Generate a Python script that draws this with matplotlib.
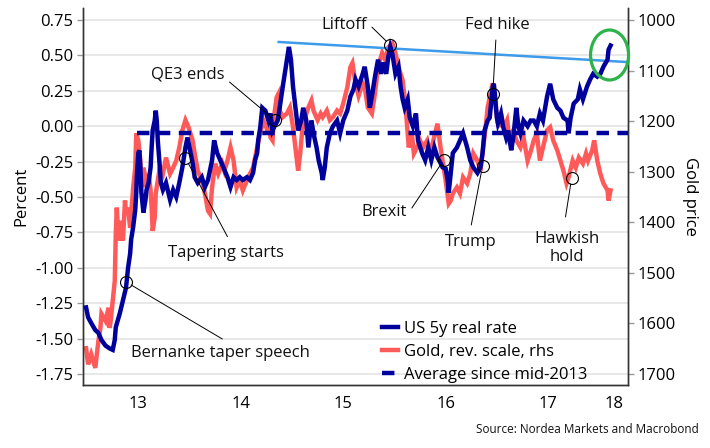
import matplotlib
matplotlib.use("Agg")
import matplotlib.pyplot as plt
from matplotlib.patches import Ellipse
from matplotlib.transforms import blended_transform_factory

plt.rcParams['font.family'] = ['Open Sans', 'DejaVu Sans']

# US 5y real rate (percent)
rate_t = [2012.99, 2013.01, 2013.04, 2013.08, 2013.11, 2013.14, 2013.18, 2013.22, 2013.25, 2013.27,
          2013.28, 2013.32, 2013.35, 2013.38, 2013.40, 2013.42, 2013.43, 2013.45, 2013.47, 2013.48,
          2013.485, 2013.50, 2013.51, 2013.52, 2013.53, 2013.55, 2013.57, 2013.58, 2013.60, 2013.62,
          2013.63, 2013.64, 2013.66, 2013.67, 2013.68, 2013.69, 2013.71, 2013.72, 2013.74, 2013.77,
          2013.81, 2013.84, 2013.87, 2013.90, 2013.93, 2013.96, 2013.98, 2014.00, 2014.03, 2014.05,
          2014.08, 2014.12, 2014.15, 2014.18, 2014.22, 2014.24, 2014.27, 2014.30, 2014.33, 2014.37,
          2014.40, 2014.43, 2014.46, 2014.49, 2014.52, 2014.56, 2014.59, 2014.62, 2014.64, 2014.66,
          2014.67, 2014.69, 2014.71, 2014.74, 2014.77, 2014.79, 2014.81, 2014.83, 2014.86, 2014.88,
          2014.91, 2014.95, 2014.97, 2014.99, 2015.01, 2015.04, 2015.06, 2015.09, 2015.11, 2015.14,
          2015.16, 2015.19, 2015.21, 2015.24, 2015.26, 2015.29, 2015.30, 2015.32, 2015.34, 2015.37,
          2015.40, 2015.44, 2015.47, 2015.50, 2015.54, 2015.57, 2015.60, 2015.62, 2015.65, 2015.69,
          2015.71, 2015.74, 2015.76, 2015.78, 2015.81, 2015.84, 2015.87, 2015.89, 2015.92, 2015.94,
          2015.96, 2015.98, 2016.01, 2016.04, 2016.06, 2016.08, 2016.10, 2016.13, 2016.15, 2016.18,
          2016.21, 2016.23, 2016.27, 2016.30, 2016.33, 2016.36, 2016.39, 2016.42, 2016.45, 2016.47,
          2016.50, 2016.52, 2016.53, 2016.55, 2016.57, 2016.61, 2016.64, 2016.67, 2016.71, 2016.74,
          2016.77, 2016.81, 2016.84, 2016.86, 2016.88, 2016.91, 2016.93, 2016.96, 2016.97, 2016.98,
          2017.00, 2017.01, 2017.04, 2017.06, 2017.09, 2017.11, 2017.14, 2017.16, 2017.19, 2017.21,
          2017.23, 2017.26, 2017.30, 2017.33, 2017.36, 2017.39, 2017.42, 2017.45, 2017.49, 2017.52,
          2017.55, 2017.59, 2017.62, 2017.65, 2017.69, 2017.70, 2017.72, 2017.75, 2017.79, 2017.81,
          2017.84, 2017.88, 2017.91, 2017.94, 2017.98, 2018.01, 2018.04, 2018.08, 2018.09, 2018.11]
rate_v = [-1.28, -1.35, -1.39, -1.44, -1.46, -1.51, -1.55, -1.57, -1.58, -1.51,
          -1.42, -1.32, -1.23, -1.14, -1.00, -0.90, -0.80, -0.71, -0.59, -0.47,
          -0.36, -0.19, -0.17, -0.29, -0.47, -0.61, -0.52, -0.45, -0.40, -0.29,
          -0.15, -0.03, 0.04, 0.11, 0.04, -0.10, -0.29, -0.40, -0.45, -0.40,
          -0.52, -0.45, -0.50, -0.40, -0.29, -0.15, -0.08, -0.15, -0.26, -0.36,
          -0.40, -0.36, -0.43, -0.38, -0.24, -0.10, -0.19, -0.24, -0.29, -0.36,
          -0.43, -0.36, -0.38, -0.36, -0.38, -0.36, -0.38, -0.33, -0.24, -0.19,
          -0.10, -0.01, 0.13, 0.11, 0.04, 0.09, -0.03, 0.00, 0.04, 0.13,
          0.28, 0.47, 0.56, 0.47, 0.28, 0.09, -0.03, 0.04, 0.13, 0.04,
          -0.15, 0.04, -0.05, -0.15, -0.24, -0.33, -0.38, -0.29, -0.15, -0.05,
          0.00, 0.04, -0.05, 0.04, 0.11, 0.21, 0.26, 0.33, 0.28, 0.37,
          0.42, 0.28, 0.13, 0.21, 0.35, 0.47, 0.37, 0.45, 0.37, 0.49,
          0.56, 0.51, 0.37, 0.42, 0.28, 0.19, 0.13, 0.19, 0.06, 0.00,
          0.09, -0.10, -0.19, -0.24, -0.15, -0.24, -0.15, -0.22, -0.26, -0.29,
          -0.30, -0.38, -0.47, -0.33, -0.19, -0.15, -0.10, -0.05, -0.15, -0.24,
          -0.29, -0.33, -0.29, -0.19, -0.03, 0.04, 0.06, 0.28, 0.30, 0.23,
          0.06, 0.02, 0.09, 0.00, -0.08, -0.03, -0.17, -0.08, 0.13, 0.00,
          -0.05, 0.04, 0.00, 0.04, 0.04, 0.00, 0.09, 0.04, 0.21, 0.30,
          0.19, 0.13, 0.11, 0.06, 0.04, -0.05, 0.06, 0.16, 0.19, 0.26,
          0.19, 0.28, 0.33, 0.37, 0.35, 0.37, 0.42, 0.47, 0.54, 0.57]

# Gold price (USD/oz), plotted on reversed right axis
gold_t = [2012.99, 2013.01, 2013.04, 2013.08, 2013.11, 2013.13, 2013.14, 2013.18, 2013.21, 2013.22,
          2013.23, 2013.25, 2013.27, 2013.28, 2013.29, 2013.30, 2013.32, 2013.33, 2013.35, 2013.37,
          2013.38, 2013.40, 2013.42, 2013.43, 2013.45, 2013.47, 2013.48, 2013.50, 2013.52, 2013.53,
          2013.55, 2013.57, 2013.58, 2013.60, 2013.62, 2013.63, 2013.64, 2013.66, 2013.67, 2013.71,
          2013.74, 2013.77, 2013.81, 2013.84, 2013.87, 2013.90, 2013.93, 2013.96, 2013.99, 2014.03,
          2014.05, 2014.08, 2014.12, 2014.15, 2014.18, 2014.20, 2014.22, 2014.25, 2014.28, 2014.32,
          2014.34, 2014.37, 2014.40, 2014.43, 2014.46, 2014.49, 2014.52, 2014.56, 2014.59, 2014.62,
          2014.66, 2014.69, 2014.72, 2014.76, 2014.78, 2014.79, 2014.81, 2014.82, 2014.85, 2014.87,
          2014.88, 2014.91, 2014.95, 2014.98, 2015.01, 2015.04, 2015.06, 2015.08, 2015.10, 2015.13,
          2015.16, 2015.19, 2015.21, 2015.25, 2015.28, 2015.30, 2015.34, 2015.37, 2015.40, 2015.44,
          2015.47, 2015.50, 2015.54, 2015.57, 2015.59, 2015.62, 2015.65, 2015.69, 2015.71, 2015.74,
          2015.78, 2015.81, 2015.84, 2015.88, 2015.91, 2015.94, 2015.98, 2016.01, 2016.04, 2016.08,
          2016.11, 2016.13, 2016.14, 2016.17, 2016.19, 2016.22, 2016.25, 2016.28, 2016.32, 2016.35,
          2016.38, 2016.42, 2016.45, 2016.47, 2016.50, 2016.53, 2016.55, 2016.57, 2016.61, 2016.64,
          2016.67, 2016.71, 2016.74, 2016.77, 2016.81, 2016.84, 2016.86, 2016.89, 2016.91, 2016.93,
          2016.96, 2016.98, 2017.00, 2017.02, 2017.04, 2017.07, 2017.10, 2017.12, 2017.16, 2017.19,
          2017.23, 2017.26, 2017.30, 2017.33, 2017.36, 2017.39, 2017.42, 2017.45, 2017.49, 2017.52,
          2017.55, 2017.59, 2017.62, 2017.65, 2017.68, 2017.70, 2017.74, 2017.77, 2017.80, 2017.84,
          2017.87, 2017.89, 2017.93, 2017.95, 2017.98, 2018.01, 2018.04, 2018.08, 2018.09, 2018.11]
gold_v = [1649, 1681, 1661, 1688, 1635, 1609, 1581, 1595, 1569, 1609,
          1595, 1556, 1516, 1423, 1371, 1411, 1436, 1397, 1436, 1357,
          1383, 1371, 1411, 1383, 1331, 1292, 1224, 1238, 1278, 1331,
          1292, 1311, 1331, 1304, 1337, 1371, 1417, 1391, 1343, 1292,
          1304, 1272, 1304, 1292, 1278, 1252, 1218, 1198, 1212, 1238,
          1264, 1298, 1317, 1343, 1377, 1383, 1331, 1284, 1304, 1284,
          1298, 1278, 1252, 1278, 1331, 1317, 1337, 1317, 1304, 1292,
          1252, 1224, 1198, 1218, 1212, 1232, 1238, 1198, 1153, 1145,
          1179, 1192, 1185, 1173, 1212, 1264, 1298, 1264, 1218, 1192,
          1173, 1159, 1179, 1198, 1185, 1192, 1179, 1198, 1192, 1179,
          1185, 1165, 1133, 1093, 1085, 1125, 1150, 1125, 1133, 1173,
          1185, 1145, 1093, 1065, 1079, 1054, 1046, 1065, 1093, 1119,
          1173, 1224, 1252, 1224, 1264, 1252, 1238, 1252, 1238, 1264,
          1238, 1205, 1252, 1278, 1317, 1363, 1357, 1343, 1331, 1343,
          1311, 1323, 1304, 1264, 1278, 1298, 1264, 1212, 1173, 1153,
          1125, 1153, 1192, 1212, 1185, 1212, 1198, 1232, 1218, 1238,
          1252, 1232, 1278, 1260, 1238, 1224, 1278, 1252, 1218, 1212,
          1238, 1258, 1278, 1298, 1323, 1311, 1278, 1292, 1272, 1284,
          1264, 1278, 1258, 1238, 1278, 1304, 1323, 1337, 1357, 1337]

avg_value = -0.05
avg_start = 2013.49

# Trend line across the real-rate peaks
trend_t = [2014.87, 2018.28]
trend_v = [0.595, 0.453]

# Annotations: label, circle (x, y), line start (x, y), text centre (x, y)
ann_labels = ["Bernanke taper speech", "Tapering starts", "QE3 ends", "Liftoff",
              "Fed hike", "Brexit", "Trump", "Hawkish\nhold"]
ann_circle = [(2013.38, -1.10), (2013.96, -0.225), (2014.83, 0.044), (2015.96, 0.573),
              (2016.96, 0.227), (2016.48, -0.24), (2016.86, -0.28), (2017.73, -0.366)]
ann_line = [(2014.32, -1.503), (2014.37, -0.78), (2014.39, 0.312), (2015.78, 0.70),
            (2016.99, 0.609), (2016.17, -0.578), (2016.75, -0.698), (2017.67, -0.641)]
ann_text = [(2014.30, -1.60), (2014.36, -0.895), (2013.98, 0.362), (2015.51, 0.715),
            (2017.00, 0.715), (2015.90, -0.606), (2016.74, -0.818), (2017.68, -0.86)]

pct_ticks = [0.75, 0.50, 0.25, 0.00, -0.25, -0.50, -0.75, -1.00, -1.25, -1.50, -1.75]
gold_ticks = [1000, 1100, 1200, 1300, 1400, 1500, 1600, 1700]
year_bounds = [2013, 2014, 2015, 2016, 2017, 2018]
year_label_pos = [2013.5, 2014.5, 2015.5, 2016.5, 2017.5, 2018.14]
year_labels = ["13", "14", "15", "16", "17", "18"]

NAVY = "#00009c"
RED = "#ff5a5a"
FS = 12
LW = 3.2

fig = plt.figure(figsize=(7.10, 4.48), dpi=100)
ax = fig.add_axes([83 / 710, 1 - 385 / 448, 545 / 710, 377 / 448])
ax2 = ax.twinx()
ax.set_zorder(ax2.get_zorder() + 1)
ax.patch.set_visible(False)

ax.set_xlim(2012.96, 2018.28)
ax.set_ylim(-1.828, 0.835)
ax2.set_ylim(1721.8, 976.2)

# grid (drawn on bottom axis, at left-axis ticks)
btrans = blended_transform_factory(ax2.transAxes, ax.transData)
for t in pct_ticks:
    ax2.plot([0, 1], [t, t], transform=btrans, color="#e6e6e6", lw=1.3, zorder=0)

l_gold, = ax2.plot(gold_t, gold_v, color=RED, lw=LW, solid_joinstyle='miter', zorder=2)
ax.plot(trend_t, trend_v, color="#3d9be9", lw=1.8, zorder=2, clip_on=False)
l_avg, = ax.plot([avg_start, 2018.28], [avg_value, avg_value], color=NAVY, lw=LW,
                 dashes=(2.8, 1.9), zorder=3)
l_rate, = ax.plot(rate_t, rate_v, color=NAVY, lw=LW, solid_joinstyle='miter', zorder=4)

ax.add_patch(Ellipse((2018.10, 0.503), 0.371, 0.353, fill=False, edgecolor="#2db34a",
                     lw=2.3, zorder=5, clip_on=False))

for lab, c, ls, tc in zip(ann_labels, ann_circle, ann_line, ann_text):
    ax.plot([c[0]], [c[1]], marker='o', ms=8.6, mfc='none', mec='black', mew=0.8, zorder=6)
    ax.annotate('', xy=c, xytext=ls,
                arrowprops=dict(arrowstyle='-', lw=0.7, color='black', shrinkA=0, shrinkB=4.3),
                zorder=6)
    ax.text(tc[0], tc[1], lab, ha='center', va='center', fontsize=FS, color='#111111',
            linespacing=1.15, zorder=7)

# spines / ticks
for a in (ax, ax2):
    a.spines['top'].set_visible(False)
    for s in ('left', 'right', 'bottom'):
        a.spines[s].set_color('#333333')
        a.spines[s].set_linewidth(1.0)

ax.set_yticks(pct_ticks)
ax.set_yticklabels([f"{t:.2f}" for t in pct_ticks])
ax.tick_params(axis='y', which='major', length=4, width=1, color='#999999', labelsize=FS, pad=3)
ax2.set_yticks(gold_ticks)
ax2.set_yticklabels([str(g) for g in gold_ticks])
ax2.tick_params(axis='y', which='major', length=4, width=1, color='#999999', labelsize=FS, pad=3)

ax.set_xticks(year_bounds)
ax.set_xticklabels([])
ax.set_xticks(year_label_pos, minor=True)
ax.set_xticklabels(year_labels, minor=True)
ax.tick_params(axis='x', which='major', length=5, width=1, color='#333333')
ax.tick_params(axis='x', which='minor', length=0, labelsize=FS, pad=8)
ax2.set_xticks([])

ax.set_ylabel("Percent", fontsize=FS, labelpad=4)
ax2.set_ylabel("Gold price", fontsize=FS, rotation=-90, labelpad=16)

leg = ax.legend([l_rate, l_gold, l_avg],
                ["US 5y real rate", "Gold, rev. scale, rhs", "Average since mid-2013"],
                loc='lower left', bbox_to_anchor=(0.548, 0.005), frameon=False,
                fontsize=FS, handlelength=1.0, handletextpad=0.35, labelspacing=0.42,
                borderpad=0.0, borderaxespad=0.0)

fig.text(699 / 710, 1 - 429 / 448, "Source: Nordea Markets and Macrobond", ha='right',
         va='center', fontsize=8.5, color='#111111')

fig.savefig("out.png", dpi=100)
